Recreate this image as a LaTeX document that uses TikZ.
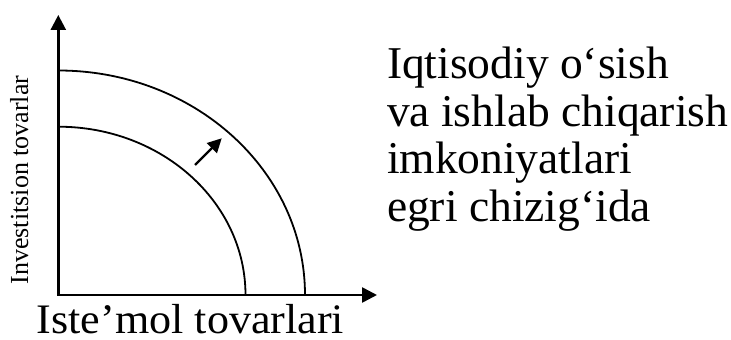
\documentclass[tikz,border=0pt]{standalone}
\usepackage{fontspec}
\setmainfont{Liberation Serif}
\usetikzlibrary{arrows.meta}
\begin{document}
\begin{tikzpicture}[x=1pt,y=1pt,
  axisline/.style={line width=2.6pt,line join=miter,
    {Triangle[length=15pt,width=15pt]}-{Triangle[length=15pt,width=15pt]}},
  ppfcurve/.style={line width=1.8pt},
  shiftarrow/.style={line width=2.2pt,-{Triangle[length=14pt,width=14pt]}},
  lbl/.style={inner sep=0pt,outer sep=0pt},
  bigtext/.style={lbl,font=\fontsize{45.5}{47}\selectfont,anchor=base west}]
\useasboundingbox (0,0) rectangle (731,340);
% axes
\coordinate (O) at (58.3,45);
\coordinate (Ytip) at (58.3,325);
\coordinate (Xtip) at (377,45);
\draw[axisline] (Ytip) -- (O) -- (Xtip);
% production possibility curves
\coordinate (outerTop) at (58.3,269.5);
\coordinate (innerTop) at (58.3,213.3);
\draw[ppfcurve] (outerTop) arc[start angle=90,end angle=0,x radius=246.7,y radius=224.5];
\draw[ppfcurve] (innerTop) arc[start angle=90,end angle=0,x radius=187.2,y radius=168.3];
% shift arrow
\coordinate (A1) at (195,175);
\coordinate (A2) at (221.7,201.7);
\draw[shiftarrow] (A1) -- (A2);
% labels
\node[lbl,rotate=90,anchor=base,font=\fontsize{26}{30}\selectfont] (ylab) at (28,160) {Investitsion tovarlar};
\node[lbl,anchor=base,font=\fontsize{42}{46}\selectfont,xscale=1.05] (xlab) at (190.5,6) {Iste’mol tovarlari};
\node[bigtext] (t1) at (387,261) {Iqtisodiy o‘sish};
\node[bigtext] (t2) at (387,213.5) {va ishlab chiqarish};
\node[bigtext] (t3) at (387,166) {imkoniyatlari};
\node[bigtext] (t4) at (387,118.5) {egri chizig‘ida};
\end{tikzpicture}
\end{document}
